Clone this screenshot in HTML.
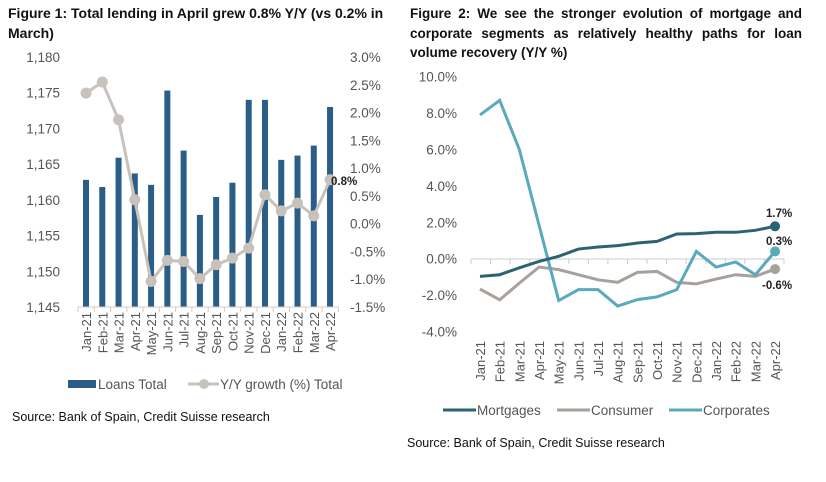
<!DOCTYPE html>
<html><head><meta charset="utf-8"><style>
body{margin:0;background:#fff;width:826px;height:482px;overflow:hidden;font-family:"Liberation Sans",sans-serif}
.t{position:absolute;font-family:"Liberation Sans",sans-serif;font-weight:bold;font-size:13.5px;line-height:19.5px;color:#111}
.src{position:absolute;font-size:12.5px;color:#111}
svg{position:absolute;left:0;top:0}
</style></head><body>
<div class="t" style="left:8px;top:4px;width:400px;font-size:14px">Figure 1: Total lending in April grew 0.8% Y/Y (vs 0.2% in March)</div>
<div class="t" style="left:410px;top:4px;width:392px;text-align:justify">Figure 2: We see the stronger evolution of mortgage and corporate segments as relatively healthy paths for loan volume recovery (Y/Y %)</div>
<div class="src" style="left:12px;top:410px">Source: Bank of Spain, Credit Suisse research</div>
<div class="src" style="left:407px;top:436px">Source: Bank of Spain, Credit Suisse research</div>
<svg id="c" width="826" height="482"></svg>
<script>
const months=["Jan-21","Feb-21","Mar-21","Apr-21","May-21","Jun-21","Jul-21","Aug-21","Sep-21","Oct-21","Nov-21","Dec-21","Jan-22","Feb-22","Mar-22","Apr-22"];
const loans=[1162.8,1161.8,1165.9,1163.7,1162.1,1175.3,1166.9,1157.9,1160.4,1162.4,1174,1174,1165.6,1166.2,1167.6,1173];
const yoy=[2.35,2.55,1.87,0.43,-1.04,-0.66,-0.68,-0.99,-0.74,-0.62,-0.44,0.52,0.23,0.37,0.14,0.79];
const leftTicks=[1145,1150,1155,1160,1165,1170,1175,1180];
const rightTicks=[-1.5,-1.0,-0.5,0,0.5,1.0,1.5,2.0,2.5,3.0];
const mortgages=[-0.97,-0.88,-0.5,-0.15,0.13,0.53,0.64,0.72,0.86,0.95,1.36,1.38,1.45,1.45,1.56,1.78];
const consumer=[-1.67,-2.26,-1.34,-0.46,-0.6,-0.88,-1.16,-1.3,-0.75,-0.7,-1.3,-1.38,-1.12,-0.88,-0.97,-0.57];
const corporates=[7.9,8.7,6.0,1.85,-2.3,-1.7,-1.7,-2.6,-2.25,-2.1,-1.7,0.4,-0.46,-0.18,-0.88,0.4];
const ticks2=[-4,-2,0,2,4,6,8,10];
const svg=document.getElementById('c');const NS="http://www.w3.org/2000/svg";
function el(t,a,txt){const e=document.createElementNS(NS,t);for(const k in a)e.setAttribute(k,a[k]);if(txt!==undefined)e.textContent=txt;svg.appendChild(e);return e;}
// chart 1
const x1=i=>86+i*16.27, yL=v=>307-(v-1145)*250/35, yR=v=>307-(v+1.5)*250/4.5;
leftTicks.forEach(v=>{const e=el('text',{x:60,y:yL(v)+5,'text-anchor':'end','font-size':13.5,fill:'#555'},v.toLocaleString('en-US'));});
rightTicks.forEach(v=>{const e=el('text',{x:350,y:yR(v)+5,'font-size':13.5,fill:'#555'},v.toFixed(1)+'%');});
loans.forEach((v,i)=>{const e=el('rect',{x:x1(i)-3,y:yL(v),width:6,height:307-yL(v),fill:'#2a5d88'});});
el('line',{x1:78,y1:307,x2:338,y2:307,stroke:'#ccc'});
for(let i=0;i<=16;i++)el('line',{x1:78+i*16.27,y1:307,x2:78+i*16.27,y2:312,stroke:'#ccc'});
const p1=el('polyline',{points:yoy.map((v,i)=>x1(i)+','+yR(v)).join(' '),fill:'none',stroke:'#c8c2bc','stroke-width':3});

yoy.forEach((v,i)=>{const e=el('circle',{cx:x1(i),cy:yR(v),r:5.5,fill:'#c8c2bc'});});
el('text',{x:331,y:yR(yoy[15])+5,'font-size':11.5,'font-weight':'bold',fill:'#222'},'0.8%');
months.forEach((m,i)=>{const e=el('text',{transform:`translate(${x1(i)+5},312) rotate(-90)`,'text-anchor':'end','font-size':13,fill:'#555'},m);});
el('rect',{x:68,y:380,width:28,height:8,fill:'#2a5d88'});
el('text',{x:98,y:389,'font-size':13.5,fill:'#555'},'Loans Total');
el('line',{x1:188,y1:384,x2:219,y2:384,stroke:'#c8c2bc','stroke-width':3});
el('circle',{cx:204,cy:384,r:5,fill:'#c8c2bc'});
el('text',{x:220,y:389,'font-size':13.5,fill:'#555'},'Y/Y growth (%) Total');
// chart 2
const x2=i=>480+i*19.67, y2=v=>258.7-v*18.2;
ticks2.forEach(v=>{const e=el('text',{x:457,y:y2(v)+5,'text-anchor':'end','font-size':13.5,fill:'#555'},v.toFixed(1)+'%');});
el('line',{x1:471,y1:259,x2:784,y2:259,stroke:'#ccc'});
for(let i=0;i<=16;i++)el('line',{x1:471+i*19.56,y1:259,x2:471+i*19.56,y2:264,stroke:'#ccc'});
[[consumer,'#a8a09a','consumer-line'],[corporates,'#5aa9bd','corporates-line'],[mortgages,'#2b6370','mortgages-line']].forEach(([d,c,n])=>{
const e=el('polyline',{points:d.map((v,i)=>x2(i)+','+y2(v)).join(' '),fill:'none',stroke:c,'stroke-width':3});

el('circle',{cx:x2(15),cy:y2(d[15]),r:5,fill:c});});
el('text',{x:766,y:217,'font-size':11.5,'font-weight':'bold',fill:'#222'},'1.7%');
el('text',{x:766,y:245,'font-size':11.5,'font-weight':'bold',fill:'#222'},'0.3%');
el('text',{x:762,y:289,'font-size':11.5,'font-weight':'bold',fill:'#222'},'-0.6%');
months.forEach((m,i)=>{const e=el('text',{transform:`translate(${x2(i)+5},341) rotate(-90)`,'text-anchor':'end','font-size':13,fill:'#555'},m);});
[[443,'#2b6370','Mortgages'],[557,'#a8a09a','Consumer'],[669,'#5aa9bd','Corporates']].forEach(([x,c,t])=>{
el('line',{x1:x,y1:410,x2:x+33,y2:410,stroke:c,'stroke-width':3});
const e=el('text',{x:x+34,y:415,'font-size':13.5,fill:'#555'},t);});
</script>
</body></html>
